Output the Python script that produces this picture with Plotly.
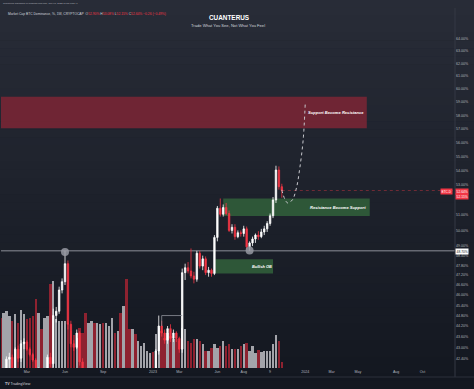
import plotly.graph_objects as go
import pandas as pd
import numpy as np

# ---------------- data (weekly CRYPTOCAP:BTC.D) ----------------
week_start = list(pd.date_range("2022-01-03", periods=52, freq="7D")) + \
             list(pd.date_range("2023-01-02", periods=45, freq="7D"))

open_ = [41.0, 40.4, 41.1, 42.35, 42.45, 41.8, 42.9, 42.4, 43.2, 43.3, 42.9, 42.6, 42.3,
         41.4, 41.7, 41.2, 41.5, 42.45, 42.1, 44.8, 45.05, 46.3, 46.8, 47.9, 44.3, 43.2,
         43.0, 43.8, 42.2, 40.8, 40.5, 41.0, 41.2, 40.1, 40.4, 40.6, 39.6, 40.8, 41.3,
         41.5, 40.8, 40.9, 40.5, 41.2, 39.7, 39.5, 40.6, 40.3, 40.7, 40.8, 41.1, 41.3,
         41.4, 41.1, 42.8, 44.2, 43.8, 43.4, 44.05, 43.5, 43.8, 43.5, 42.9, 47.35, 47.65,
         47.45, 47.15, 46.95, 48.55, 47.75, 48.2, 47.35, 47.5, 47.3, 49.55, 51.45, 51.05,
         51.5, 51.1, 50.0, 50.2, 49.6, 49.85, 49.8, 50.1, 48.95, 49.2, 49.45, 49.7, 49.6,
         49.9, 50.1, 50.45, 50.95, 52.0, 54.05, 52.9]
high = [41.4, 41.3, 42.5, 42.7, 42.6, 43.0, 43.1, 43.4, 43.5, 43.4, 43.0, 42.7, 42.4,
        41.9, 41.8, 41.6, 42.6, 42.7, 45.2, 45.3, 46.5, 47.0, 48.7, 48.1, 44.5, 43.4,
        44.0, 43.9, 42.4, 41.2, 41.2, 41.4, 41.3, 40.7, 40.9, 40.8, 41.0, 41.5, 41.7,
        41.6, 41.1, 41.2, 41.4, 41.5, 40.2, 40.8, 40.8, 40.9, 41.0, 41.3, 41.5, 41.6,
        41.7, 42.9, 44.8, 44.5, 44.0, 44.2, 44.3, 44.0, 43.9, 43.6, 47.6, 47.9, 48.0,
        48.85, 47.4, 48.7, 48.7, 48.4, 48.35, 47.7, 47.6, 49.7, 51.6, 52.1, 51.7,
        51.8, 51.3, 50.4, 50.4, 50.0, 50.0, 50.3, 50.25, 49.3, 49.6, 49.8, 49.95, 50.1,
        50.3, 50.6, 51.1, 52.2, 54.35, 54.3, 53.1]
low = [40.1, 40.0, 40.9, 41.8, 41.6, 41.7, 42.2, 42.2, 42.9, 42.8, 42.5, 42.2, 41.2,
       41.2, 41.0, 41.0, 41.4, 41.9, 41.9, 44.4, 44.9, 46.1, 46.6, 44.0, 43.0, 42.8,
       42.9, 42.0, 40.5, 40.2, 40.3, 40.6, 39.9, 39.8, 40.1, 39.3, 39.4, 40.5, 41.0,
       40.6, 40.5, 40.3, 40.3, 39.4, 39.2, 39.4, 40.1, 40.2, 40.4, 40.6, 40.9, 41.0,
       41.0, 40.9, 42.6, 43.6, 43.2, 43.2, 43.3, 43.3, 43.3, 42.7, 42.7, 46.9, 47.3,
       47.0, 46.7, 46.8, 47.6, 47.5, 47.2, 47.1, 47.1, 47.2, 49.3, 50.9, 50.9,
       51.0, 49.9, 49.8, 49.4, 49.5, 49.6, 49.6, 48.8, 48.7, 49.0, 49.2, 49.4, 49.5,
       49.7, 49.9, 50.3, 50.8, 51.8, 52.7, 52.15]
close = [40.4, 41.1, 42.35, 42.45, 41.8, 42.9, 42.4, 43.2, 43.3, 42.9, 42.6, 42.3, 41.4,
         41.7, 41.2, 41.5, 42.45, 42.1, 44.8, 45.05, 46.3, 46.8, 47.9, 44.3, 43.2, 43.0,
         43.8, 42.2, 40.8, 40.5, 41.0, 41.2, 40.1, 40.4, 40.6, 39.6, 40.8, 41.3, 41.5,
         40.8, 40.9, 40.5, 41.2, 39.7, 39.5, 40.6, 40.3, 40.7, 40.8, 41.1, 41.3, 41.4,
         41.1, 42.8, 44.2, 43.8, 43.4, 44.05, 43.5, 43.8, 43.5, 42.9, 47.35, 47.65, 47.45,
         47.15, 46.95, 48.55, 47.75, 48.2, 47.35, 47.5, 47.3, 49.55, 51.45, 51.05, 51.5,
         51.1, 50.0, 50.2, 49.6, 49.85, 49.8, 50.1, 48.95, 49.2, 49.45, 49.7, 49.6, 49.9,
         50.1, 50.45, 50.95, 52.0, 54.05, 52.9, 52.64]
volume = [50, 55, 57, 52, 47, 54, 45, 58, 54, 49, 50, 52, 69, 55, 39, 50, 52, 84, 87, 49,
          47, 47, 47, 45, 37, 33, 30, 40, 35, 55, 45, 47, 45, 45, 44, 45, 45, 42, 50, 35,
          37, 55, 62, 89, 39, 39, 34, 27, 22, 25, 17, 15,
          16, 34, 40, 37, 30, 35, 32, 29, 29, 27, 40, 39, 27, 25, 29, 29, 27, 24, 17, 17,
          20, 24, 20, 22, 27, 22, 24, 19, 19, 19, 22, 24, 25, 17, 22, 15, 18, 16, 17, 17,
          17, 24, 33, 27, 6]

# projection path (dotted) drawn by the author
proj_dates = ["2023-11-06", "2023-11-13", "2023-11-20", "2023-12-01", "2023-12-11",
              "2023-12-19", "2023-12-27", "2024-01-01"]
proj_vals = [52.68, 52.07, 51.80, 52.0, 52.82, 54.2, 56.2, 58.93]

# structure line (range high before the March 2023 breakout)
bos_dates = ["2023-01-23", "2023-01-23", "2023-03-13"]
bos_vals = [44.2, 44.8, 44.8]

key_level = 48.70
last_close = 52.64
last_low = 52.15

# zones: (start, end, low, high, label)
zone_resist = ("2022-01-01", "2024-05-27", 57.05, 59.40, "Support Become Resistance")
zone_support = ("2023-06-19", "2024-06-03", 50.93, 52.10, "Resistance Become Support")
zone_ob = ("2023-05-31", "2023-10-16", 47.29, 48.18, "Bullish OB")

touch_dates = ["2022-06-06", "2023-08-21"]
touch_vals = [48.62, 48.72]

y_ticks = [64, 63, 62, 61, 60, 59, 58, 57, 56, 55, 54, 53, 51, 50, 49, 48.4, 47.8,
           47.2, 46.6, 46.0, 45.4, 44.8, 44.2, 43.6, 43.0, 42.4]
x_tick_dates = ["2022-03-07", "2022-06-06", "2022-09-05", "2023-01-02", "2023-03-06",
                "2023-06-05", "2023-08-07", "2023-10-09", "2024-01-01", "2024-03-04",
                "2024-05-06", "2024-08-05", "2024-10-07"]
x_tick_text = ["Mar", "Jun", "Sep", "2023", "Mar", "Jun", "Aug", "9", "2024", "Mar",
               "May", "Aug", "Oct"]

# ---------------- layout geometry ----------------
W, H = 474, 389
ML, MR, MT, MB = 1, 19, 8, 21
PW, PH = W - ML - MR, H - MT - MB


def pxx(x):
    return (x - ML) / PW


def pxy(y):
    return 1 - (y - MT) / PH


anchor = pd.Timestamp("2022-06-06")
px_per_week = 2.93
x_left = anchor + pd.Timedelta(weeks=(ML - 65) / px_per_week)
x_right = anchor + pd.Timedelta(weeks=(ML + PW - 65) / px_per_week)
y_range = [np.log10(41.87), np.log10(66.61)]

FONT = "Liberation Sans, Arial, sans-serif"
UP, DOWN = "#ffffff", "#f23645"
VUP, VDOWN = "#a3a4aa", "#8e2230"
TXT = "#b2b5be"

fig = go.Figure()

vol_colors = [VUP if c >= o else VDOWN for o, c in zip(open_, close)]
fig.add_trace(go.Bar(x=week_start, y=volume, marker_color=vol_colors, marker_line_width=0,
                     width=0.82 * 7 * 86400000, yaxis="y", hoverinfo="skip"))

fig.add_trace(go.Candlestick(
    x=week_start, open=open_, high=high, low=low, close=close, yaxis="y2",
    increasing=dict(line=dict(color=UP, width=0.8), fillcolor=UP),
    decreasing=dict(line=dict(color=DOWN, width=0.8), fillcolor=DOWN),
    whiskerwidth=0, hoverinfo="skip"))

fig.add_trace(go.Scatter(x=bos_dates, y=bos_vals, yaxis="y2", mode="lines",
                         line=dict(color="#8f929b", width=0.8), hoverinfo="skip"))

fig.add_trace(go.Scatter(x=proj_dates, y=proj_vals, yaxis="y2", mode="lines",
                         line=dict(color="#c9cacf", width=1, dash="dot", shape="spline"),
                         hoverinfo="skip"))

fig.add_trace(go.Scatter(x=touch_dates, y=touch_vals, yaxis="y2", mode="markers",
                         marker=dict(size=8, color="rgba(150,153,162,0.85)", line=dict(width=0)),
                         hoverinfo="skip"))

shapes = []
# background gradient bands
n = 48
top_c = np.array([40, 44, 55])
bot_c = np.array([19, 23, 32])
for k in range(n):
    t = k / (n - 1)
    c = top_c + (bot_c - top_c) * t
    y0 = pxy(k * H / n)
    y1 = pxy((k + 1) * H / n)
    shapes.append(dict(type="rect", xref="paper", yref="paper", x0=pxx(0), x1=pxx(W),
                       y0=y1, y1=y0 + 0.001, line=dict(width=0), layer="below",
                       fillcolor="rgb(%d,%d,%d)" % tuple(c.round().astype(int))))

for z, col in [(zone_resist, "rgba(122,38,52,0.88)"), (zone_support, "rgba(48,92,58,0.92)"),
               (zone_ob, "rgba(48,92,58,0.92)")]:
    x0 = max(pd.Timestamp(z[0]), x_left)
    shapes.append(dict(type="rect", xref="x", yref="y2", x0=x0, x1=z[1], y0=z[2], y1=z[3],
                       fillcolor=col, line=dict(width=0), layer="below"))

shapes.append(dict(type="line", xref="paper", yref="y2", x0=0, x1=1, y0=key_level,
                   y1=key_level, line=dict(color="#8d9099", width=1), layer="below"))
shapes.append(dict(type="line", xref="x", yref="y2", x0=week_start[-1], x1=x_right,
                   y0=last_close, y1=last_close,
                   line=dict(color="rgba(242,54,69,0.55)", width=0.7, dash="dot"),
                   layer="below"))
# axis separators
shapes.append(dict(type="line", xref="paper", yref="paper", x0=1, x1=1, y0=pxy(377), y1=pxy(MT),
                   line=dict(color="#343844", width=1)))
shapes.append(dict(type="line", xref="paper", yref="paper", x0=pxx(0), x1=pxx(W), y0=pxy(377),
                   y1=pxy(377), line=dict(color="#2c303b", width=1)))

ann = []


def text(x, y, s, size, color=TXT, xanchor="left", bold=False, italic=False, bg=None):
    if bold:
        s = "<b>%s</b>" % s
    if italic:
        s = "<i>%s</i>" % s
    d = dict(xref="paper", yref="paper", x=pxx(x), y=pxy(y), text=s, showarrow=False,
             xanchor=xanchor, yanchor="middle", font=dict(size=size, color=color, family=FONT))
    if bg:
        d.update(bgcolor=bg, borderpad=0.6)
    ann.append(d)


red = "#f23645"
header2 = ("Market Cap BTC Dominance, %, 1W, CRYPTOCAP&nbsp; "
           "O<span style='color:{r}'>52.90%</span> H<span style='color:{r}'>53.08%</span> "
           "L<span style='color:{r}'>52.15%</span> "
           "C<span style='color:{r}'>52.64% −0.26 (−0.49%)</span>").format(r=red)
text(1, 3.2, "Cuanterus published on TradingView.com, Nov 07, 2023 16:55 UTC+7", 2.4)
text(6, 14, header2, 3.3, color="#d1d4dc")
text(229, 17.3, "CUANTERUS", 6.4, color="#ffffff", xanchor="center", bold=True)
text(228, 25.7, "Trade What You See, Not What You Feel", 4.1, color="#d1d4dc", xanchor="center")

text(366, 112.7, zone_resist[4], 4.1, color="#ffffff", xanchor="right", bold=True, italic=True)
text(368, 207.5, zone_support[4], 4.1, color="#ffffff", xanchor="right", bold=True, italic=True)
text(262, 266, zone_ob[4], 3.9, color="#ffffff", xanchor="center", bold=True, italic=True)

text(446, 191.4, "BTC.D", 3.1, color="#ffffff", xanchor="center", bg=red)
text(461.5, 191.4, "{:.2f}%".format(last_close), 3.3, color="#ffffff", xanchor="center", bg=red)
text(461.5, 196.2, "{:.2f}%".format(last_low), 3.3, color="#ffffff", xanchor="center", bg=red)
text(461.5, 251.6, "{:.2f}%".format(key_level), 3.3, color="#131722", xanchor="center", bg="#ffffff")

text(3, 383.5, "<b>TV</b> TradingView", 3.6, color="#d1d4dc")

fig.update_layout(
    width=W, height=H, margin=dict(l=ML, r=MR, t=MT, b=MB, pad=0),
    paper_bgcolor="#1c2029", plot_bgcolor="rgba(0,0,0,0)",
    showlegend=False, hovermode=False, bargap=0,
    font=dict(family=FONT, color=TXT),
    shapes=shapes, annotations=ann,
    xaxis=dict(type="date", range=[x_left, x_right], rangeslider=dict(visible=False),
               showgrid=False, zeroline=False, showline=False, ticks="",
               tickvals=x_tick_dates, ticktext=x_tick_text,
               tickfont=dict(size=3.6, color=TXT, family=FONT)),
    yaxis=dict(range=[0, 360], visible=False, fixedrange=True),
    yaxis2=dict(type="log", range=y_range, overlaying="y", side="right", anchor="x",
                showgrid=False, zeroline=False, showline=False, ticks="",
                tickvals=y_ticks, ticktext=["{:.2f}%".format(v) for v in y_ticks],
                tickfont=dict(size=3.6, color=TXT, family=FONT)),
)

fig.write_html("out.html", config={"displayModeBar": False},
               post_script="document.body.style.margin='0px';"
                           "document.body.style.padding='0px';"
                           "document.body.style.overflow='hidden';")
